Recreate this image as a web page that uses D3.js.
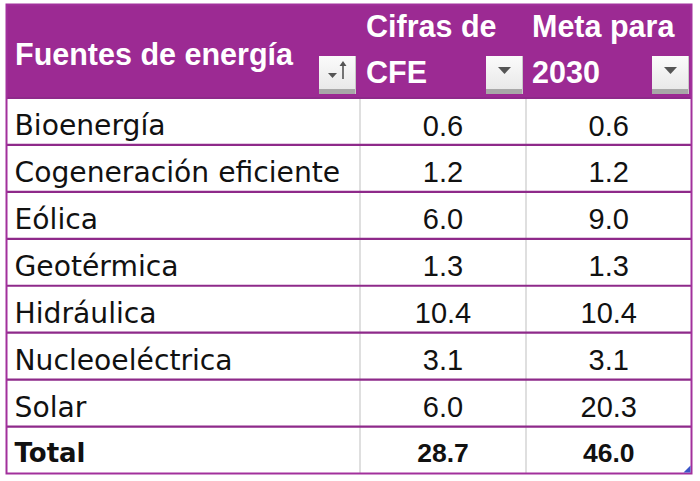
<!DOCTYPE html>
<html><head><meta charset="utf-8">
<script src="https://cdn.jsdelivr.net/npm/d3@7/dist/d3.min.js"></script>
<style>html,body{margin:0;padding:0;background:#fff;}svg{display:block;}</style>
</head><body>
<svg id="c" width="700" height="481"></svg>
<script>
const headers = [["Fuentes de energía"], ["Cifras de", "CFE"], ["Meta para", "2030"]];
const categories = ["Bioenergía", "Cogeneración eficiente", "Eólica", "Geotérmica", "Hidráulica", "Nucleoeléctrica", "Solar"];
const cifrasCFE = [0.6, 1.2, 6.0, 1.3, 10.4, 3.1, 6.0];
const meta2030 = [0.6, 1.2, 9.0, 1.3, 10.4, 3.1, 20.3];
const totalLabel = "Total";
const totals = [28.7, 46.0];

const svg = d3.select("#c");
const purple = "#9c2a93", line = "#8e2a8a", grid = "#d4d4d4";
const L = 6.5, R = 691.5, T = 4.5, H = 98, B = 473.5;
const colEdges = [L, 360, 526, R];
const cols = ["name", "cfe", "meta"];
const x0 = d3.scaleOrdinal().domain(cols).range(colEdges.slice(0, 3));
const x1 = d3.scaleOrdinal().domain(cols).range(colEdges.slice(1));
const rows = [...categories, totalLabel];
const y = d3.scaleBand().domain(rows).range([H, B]);
const fmt = d3.format(".1f");

// header
svg.append("rect").attr("x", L).attr("y", T).attr("width", R - L).attr("height", H - T).attr("fill", purple);
const hdr = svg.append("g").attr("fill", "#fff").attr("font-family", "'Liberation Sans', Arial, sans-serif")
  .attr("font-weight", "bold").attr("font-size", 30.5);
headers.forEach((lines, i) => {
  const c = cols[i];
  if (lines.length === 1) {
    hdr.append("text").attr("x", x0(c) + 8.5).attr("y", 65).text(lines[0]);
  } else {
    lines.forEach((t, j) => hdr.append("text").attr("x", x0(c) + 6).attr("y", 37 + j * 46).text(t));
  }
});

// dropdown buttons
const grad = svg.append("defs").append("linearGradient").attr("id", "btngrad").attr("x1", 0).attr("y1", 0).attr("x2", 0).attr("y2", 1);
grad.append("stop").attr("offset", 0).attr("stop-color", "#fbfbfb");
grad.append("stop").attr("offset", 1).attr("stop-color", "#e6e6e6");
function button(xr, kind) {
  const g = svg.append("g").attr("transform", `translate(${xr - 38},56)`);
  g.append("rect").attr("width", 37).attr("height", 38).attr("fill", "url(#btngrad)");
  g.append("rect").attr("y", 33).attr("width", 37).attr("height", 5).attr("fill", "#a8a8a8");
  g.append("rect").attr("x", 36).attr("width", 1).attr("height", 38).attr("fill", "#c8c8c8");
  if (kind === "sort") {
    g.append("path").attr("d", "M9,17 L18,17 L13.5,22 Z").attr("fill", "#555");
    g.append("path").attr("d", "M24,5 L20.5,10 L23.2,10 L23.2,23 L24.8,23 L24.8,10 L27.5,10 Z").attr("fill", "#555");
  } else {
    g.append("path").attr("d", "M12,11 L25,11 L18.5,18 Z").attr("fill", "#555");
  }
}
button(357, "sort");
button(524, "drop");
button(690, "drop");

// grid verticals in body
[360, 526].forEach(xv => svg.append("line").attr("x1", xv).attr("x2", xv).attr("y1", H).attr("y2", B)
  .attr("stroke", grid).attr("stroke-width", 1.5));

// row separators
rows.forEach(r => svg.append("line").attr("x1", L).attr("x2", R).attr("y1", y(r)).attr("y2", y(r))
  .attr("stroke", line).attr("stroke-width", 2.2));

// labels
const body = svg.append("g").attr("fill", "#111");
categories.forEach((c, i) => {
  const yy = y(c);
  body.append("text").attr("x", x0("name") + 8).attr("y", yy + 37)
    .attr("font-family", "'DejaVu Sans', sans-serif").attr("font-size", 28.2).text(c);
  [["cfe", cifrasCFE[i]], ["meta", meta2030[i]]].forEach(([k, v]) => {
    body.append("text").attr("x", (x0(k) + x1(k)) / 2).attr("y", yy + 37.5).attr("text-anchor", "middle")
      .attr("font-family", "'Liberation Sans', Arial, sans-serif").attr("font-size", 29).text(fmt(v));
  });
});
const ty = y(totalLabel);
body.append("text").attr("x", x0("name") + 8).attr("y", ty + 35)
  .attr("font-family", "'DejaVu Sans', sans-serif").attr("font-weight", "bold").attr("font-size", 26).text(totalLabel);
[["cfe", totals[0]], ["meta", totals[1]]].forEach(([k, v]) => {
  body.append("text").attr("x", (x0(k) + x1(k)) / 2).attr("y", ty + 35.5).attr("text-anchor", "middle")
    .attr("font-family", "'Liberation Sans', Arial, sans-serif").attr("font-weight", "bold").attr("font-size", 26.5).text(fmt(v));
});

// outer border
svg.append("rect").attr("x", L).attr("y", T).attr("width", R - L).attr("height", B - T)
  .attr("fill", "none").attr("stroke", "#a2309c").attr("stroke-width", 2);
// resize handle
svg.append("path").attr("d", `M${R - 1},${B - 8} L${R - 1},${B - 1} L${R - 8},${B - 1} Z`).attr("fill", "#3a55c8");
</script>
</body></html>
